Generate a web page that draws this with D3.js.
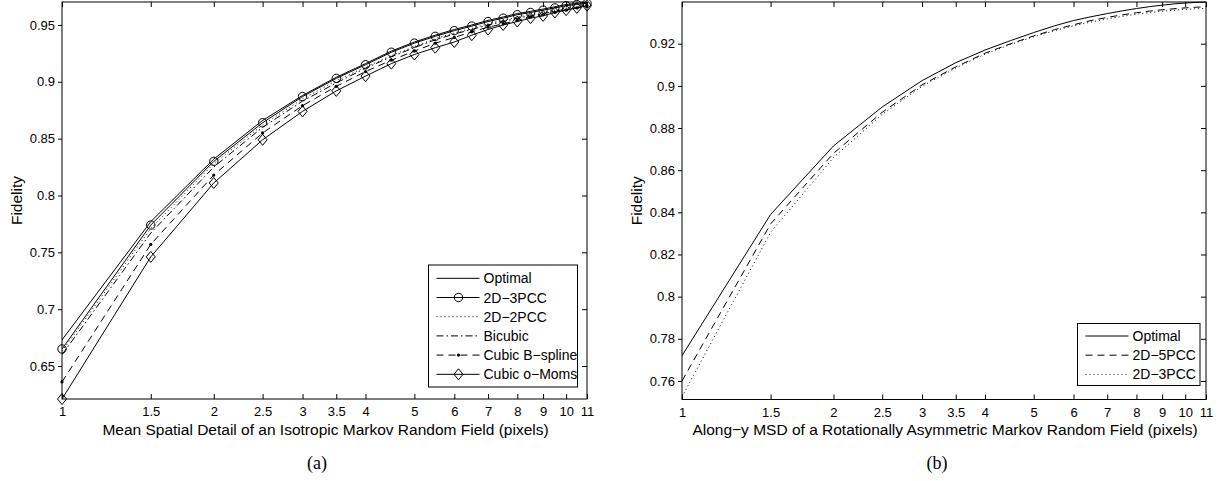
<!DOCTYPE html>
<html>
<head>
<meta charset="utf-8">
<script src="https://cdnjs.cloudflare.com/ajax/libs/d3/7.8.5/d3.min.js"></script>
<style>
  body { margin: 0; background: #fff; }
  text { font-family: "Liberation Sans", Arial, sans-serif; fill: #000; }
  .caption { font-family: "Liberation Serif", "Times New Roman", serif; font-size: 18px; }
</style>
</head>
<body>
<div id="chart"></div>
<script>
// x positions (pixels of spatial detail), same grid for both panels
const detail = [1, 1.5, 2, 2.5, 3, 3.5, 4, 4.5, 5, 5.5, 6, 6.5, 7, 7.5, 8, 8.5, 9, 9.5, 10, 10.5, 11];

// panel (a) - isotropic MRF
const optimalA = [0.673, 0.777, 0.832, 0.866, 0.888, 0.904, 0.916, 0.927, 0.935, 0.941, 0.946, 0.950, 0.954, 0.957, 0.960, 0.962, 0.964, 0.966, 0.968, 0.969, 0.970];
const pcc3A    = [0.665, 0.774, 0.830, 0.864, 0.887, 0.903, 0.915, 0.926, 0.934, 0.940, 0.945, 0.949, 0.953, 0.956, 0.959, 0.961, 0.963, 0.965, 0.967, 0.968, 0.969];
const pcc2A    = [0.663, 0.771, 0.828, 0.862, 0.885, 0.901, 0.913, 0.923, 0.931, 0.938, 0.943, 0.947, 0.951, 0.954, 0.957, 0.959, 0.961, 0.963, 0.965, 0.966, 0.968];
const bicubicA = [0.660, 0.767, 0.825, 0.860, 0.883, 0.899, 0.912, 0.922, 0.930, 0.937, 0.942, 0.946, 0.950, 0.953, 0.956, 0.958, 0.960, 0.962, 0.964, 0.965, 0.967];
const bsplineA = [0.636, 0.757, 0.818, 0.855, 0.879, 0.896, 0.909, 0.919, 0.927, 0.934, 0.939, 0.944, 0.948, 0.951, 0.954, 0.957, 0.959, 0.961, 0.963, 0.965, 0.967];
const omomsA   = [0.621, 0.746, 0.811, 0.849, 0.874, 0.892, 0.905, 0.916, 0.924, 0.930, 0.935, 0.941, 0.946, 0.950, 0.953, 0.956, 0.958, 0.961, 0.963, 0.965, 0.967];

// panel (b) - rotationally asymmetric MRF
const optimalB = [0.772, 0.839, 0.8715, 0.890, 0.9025, 0.911, 0.917, 0.9215, 0.9253, 0.9285, 0.931, 0.9328, 0.9343, 0.9356, 0.9367, 0.9376, 0.9383, 0.9389, 0.9393, 0.9396, 0.9398];
const pcc5B    = [0.760, 0.8345, 0.868, 0.8875, 0.9005, 0.909, 0.9155, 0.920, 0.9237, 0.9267, 0.929, 0.931, 0.9325, 0.9337, 0.9347, 0.9355, 0.9361, 0.9366, 0.937, 0.9373, 0.9376];
const pcc3B    = [0.7525, 0.8305, 0.866, 0.8865, 0.8998, 0.9085, 0.915, 0.9197, 0.9233, 0.9262, 0.9285, 0.9303, 0.9318, 0.933, 0.934, 0.9348, 0.9354, 0.9359, 0.9363, 0.9366, 0.9368];

const xTicks = [1, 1.5, 2, 2.5, 3, 3.5, 4, 5, 6, 7, 8, 9, 10, 11];
const yTicksA = [0.65, 0.7, 0.75, 0.8, 0.85, 0.9, 0.95];
const yTicksB = [0.76, 0.78, 0.8, 0.82, 0.84, 0.86, 0.88, 0.9, 0.92];

const seriesA = [
    {name: "Optimal", values: optimalA, dash: null, marker: null},
    {name: "2D\u22123PCC", values: pcc3A, dash: null, marker: "circle"},
    {name: "2D\u22122PCC", values: pcc2A, dash: "1,3", marker: null},
    {name: "Bicubic", values: bicubicA, dash: "7,3,1.5,3", marker: null},
    {name: "Cubic B\u2212spline", values: bsplineA, dash: "7,5", marker: "dot"},
    {name: "Cubic o\u2212Moms", values: omomsA, dash: null, marker: "diamond"}
];
const seriesB = [
    {name: "Optimal", values: optimalB, dash: null, marker: null},
    {name: "2D\u22125PCC", values: pcc5B, dash: "7,5", marker: null},
    {name: "2D\u22123PCC", values: pcc3B, dash: "1,3", marker: null}
];

const svg = d3.select("#chart").append("svg")
    .attr("width", 1228)
    .attr("height", 481);

class FidelityPlot {

    constructor(svg, opts) {
        this.svg = svg;
        this.opts = opts;
        this.initVis();
    }

    initVis() {
        let vis = this;
        let o = vis.opts;

        vis.x = d3.scaleLog().domain([1, 11]).range([o.left, o.right]);
        vis.y = d3.scaleLinear().domain(o.yDomain).range([o.bottom, o.top]);

        vis.g = vis.svg.append("g").attr("id", o.id);

        vis.g.append("clipPath").attr("id", "clip-" + o.id)
            .append("rect")
            .attr("x", o.left).attr("y", o.top - 1)
            .attr("width", o.right - o.left).attr("height", o.bottom - o.top + 2);

        // axes, MATLAB style: box on, ticks on all four sides
        let bottom = vis.g.append("g")
            .attr("transform", `translate(0,${o.bottom})`)
            .call(d3.axisBottom(vis.x).tickValues(xTicks).tickFormat(d => d)
                .tickSizeInner(-5).tickSizeOuter(0).tickPadding(8));
        let top = vis.g.append("g")
            .attr("transform", `translate(0,${o.top})`)
            .call(d3.axisTop(vis.x).tickValues(xTicks).tickFormat("")
                .tickSizeInner(-5).tickSizeOuter(0));
        let left = vis.g.append("g")
            .attr("transform", `translate(${o.left},0)`)
            .call(d3.axisLeft(vis.y).tickValues(o.yTicks).tickFormat(d => +d.toFixed(2))
                .tickSizeInner(4).tickSizeOuter(0).tickPadding(3));
        let right = vis.g.append("g")
            .attr("transform", `translate(${o.right},0)`)
            .call(d3.axisRight(vis.y).tickValues(o.yTicks).tickFormat("")
                .tickSizeInner(-5).tickSizeOuter(0));

        [bottom, top, left, right].forEach(a => {
            a.select(".domain").remove();
            a.selectAll("line").attr("stroke", "#000");
            a.selectAll("text")
                .style("font-size", "13px")
                .style("font-family", "'Liberation Sans', Arial, sans-serif")
                .attr("fill", "#000");
        });

        vis.g.append("rect")
            .attr("x", o.left).attr("y", o.top)
            .attr("width", o.right - o.left).attr("height", o.bottom - o.top)
            .attr("fill", "none").attr("stroke", "#000").attr("stroke-width", 1);

        // labels
        vis.g.append("text")
            .attr("x", (o.left + o.right) / 2 + 1)
            .attr("y", 435)
            .attr("text-anchor", "middle")
            .style("font-size", "15.5px")
            .text(o.xLabel);

        vis.g.append("text")
            .attr("transform", `translate(${o.left - 40},${(o.top + o.bottom) / 2}) rotate(-90)`)
            .attr("text-anchor", "middle")
            .style("font-size", "15.5px")
            .text("Fidelity");

        vis.g.append("text")
            .attr("class", "caption")
            .attr("x", o.left + 255)
            .attr("y", 469)
            .attr("text-anchor", "middle")
            .text(o.caption);

        vis.drawLines();
        vis.drawLegend();
    }

    marker(sel, type, cx, cy) {
        if (type === "circle") {
            sel.append("circle").attr("cx", cx).attr("cy", cy).attr("r", 4.2)
                .attr("fill", "none").attr("stroke", "#000").attr("stroke-width", 1);
        } else if (type === "diamond") {
            sel.append("path")
                .attr("d", `M${cx},${cy - 5.5}L${cx + 4.5},${cy}L${cx},${cy + 5.5}L${cx - 4.5},${cy}Z`)
                .attr("fill", "none").attr("stroke", "#000").attr("stroke-width", 1);
        } else if (type === "dot") {
            sel.append("circle").attr("cx", cx).attr("cy", cy).attr("r", 1.6)
                .attr("fill", "#000");
        }
    }

    drawLines() {
        let vis = this;
        let line = d3.line()
            .x((d, i) => vis.x(detail[i]))
            .y(d => vis.y(d));

        let plot = vis.g.append("g").attr("clip-path", `url(#clip-${vis.opts.id})`);

        vis.opts.series.forEach(s => {
            plot.append("path")
                .datum(s.values)
                .attr("d", line)
                .attr("fill", "none")
                .attr("stroke", "#000")
                .attr("stroke-width", 1)
                .attr("stroke-dasharray", s.dash);
        });

        // markers on top of lines (not clipped)
        vis.opts.series.forEach(s => {
            if (!s.marker) return;
            let mg = vis.g.append("g");
            s.values.forEach((v, i) => vis.marker(mg, s.marker, vis.x(detail[i]), vis.y(v)));
        });
    }

    drawLegend() {
        let vis = this;
        let L = vis.opts.legend;
        let lg = vis.g.append("g").attr("class", "legend");

        lg.append("rect")
            .attr("x", L.x).attr("y", L.y)
            .attr("width", L.w).attr("height", L.h)
            .attr("fill", "#fff").attr("stroke", "#000").attr("stroke-width", 1);

        vis.opts.series.forEach((s, i) => {
            let cy = L.y + L.first + i * 19.2;
            lg.append("line")
                .attr("x1", L.x + 8).attr("x2", L.x + 51)
                .attr("y1", cy).attr("y2", cy)
                .attr("stroke", "#000").attr("stroke-width", 1)
                .attr("stroke-dasharray", s.dash);
            if (s.marker) vis.marker(lg, s.marker, L.x + 30, cy);
            lg.append("text")
                .attr("x", L.x + 55)
                .attr("y", cy + 5)
                .style("font-size", "14px")
                .text(s.name);
        });
    }
}

new FidelityPlot(svg, {
    id: "a",
    left: 62, right: 587, top: 2, bottom: 399,
    yDomain: [0.621, 0.9702],
    yTicks: yTicksA,
    series: seriesA,
    xLabel: "Mean Spatial Detail of an Isotropic Markov Random Field (pixels)",
    caption: "(a)",
    legend: {x: 428.5, y: 265, w: 149, h: 122, first: 13.3}
});

new FidelityPlot(svg, {
    id: "b",
    left: 682, right: 1206, top: 2, bottom: 399.5,
    yDomain: [0.7512, 0.9398],
    yTicks: yTicksB,
    series: seriesB,
    xLabel: "Along\u2212y MSD of a Rotationally Asymmetric Markov Random Field (pixels)",
    caption: "(b)",
    legend: {x: 1077.5, y: 323.5, w: 122.5, h: 62, first: 12.5}
});
</script>
</body>
</html>
